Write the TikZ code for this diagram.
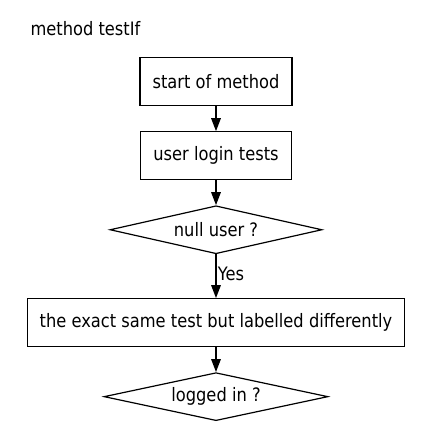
\documentclass[tikz,border=0pt]{standalone}
\usepackage{fontspec}
\setmainfont{DejaVu Sans}[FakeStretch=0.88]
\usetikzlibrary{matrix,shapes.geometric,arrows.meta}

\begin{document}
\begin{tikzpicture}[
    x=1pt, y=1pt,
    font=\fontsize{18.5}{22}\selectfont,
    stepbox/.style={draw, line width=1.2pt, inner xsep=12.5pt, minimum height=48pt},
    testbox/.style={draw, diamond, line width=1.2pt, aspect=4.5, inner sep=0pt, minimum height=48pt},
    link/.style={-{Triangle[length=13pt,width=9.5pt]}, line width=1.6pt}
]
    \useasboundingbox (0,0) rectangle (432,-444);

    \node[anchor=base west] (title) at (27,-36) {method testIf};

    \matrix (flow) [matrix of nodes, row sep=25pt, matrix anchor=flow-1-1.north] at (216,-57)
    {
        |[stepbox]| start of method \\
        |[stepbox]| user login tests \\
        |[testbox, minimum width=212pt]| null user ? \\[19pt]
        |[stepbox]| the exact same test but labelled differently \\
        |[testbox, minimum width=224pt]| logged in ? \\
    };

    \draw[link] (flow-1-1) -- (flow-2-1);
    \draw[link] (flow-2-1) -- (flow-3-1);
    \draw[link] (flow-3-1) -- node[anchor=west, inner sep=1pt, pos=0.45] (yes) {Yes} (flow-4-1);
    \draw[link] (flow-4-1) -- (flow-5-1);
\end{tikzpicture}
\end{document}
